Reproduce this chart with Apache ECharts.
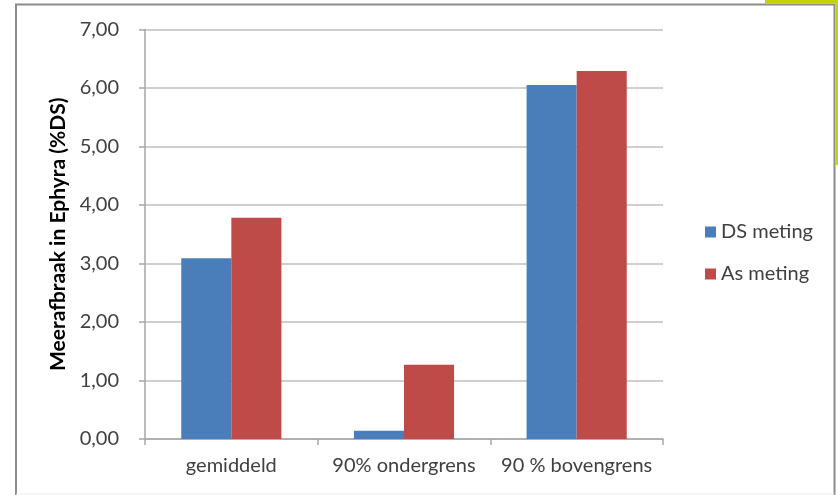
<!DOCTYPE html>
<html>
<head>
<meta charset="utf-8">
<script src="https://cdn.jsdelivr.net/npm/echarts@6/dist/echarts.min.js"></script>
<style>
  html, body { margin: 0; padding: 0; background: #ffffff; }
  #chart { width: 838px; height: 495px; }
</style>
</head>
<body>
<div id="chart"></div>
<script>
// Categories along the x axis
const categories = ['gemiddeld', '90% ondergrens', '90 % bovengrens'];
// Series names
const seriesNames = ['DS meting', 'As meting'];
// Values per series (%DS)
const dsMeting = [3.09, 0.14, 6.05];
const asMeting = [3.78, 1.27, 6.29];
// Y axis range
const yMin = 0, yMax = 7, yStep = 1;

const fontFamily = 'Lato, "Open Sans", "Noto Sans", sans-serif';
const textColor = '#404040';
const frameColor = '#8c8c8c';

const chart = echarts.init(document.getElementById('chart'), null, { renderer: 'canvas' });

chart.setOption({
  animation: false,
  backgroundColor: '#ffffff',
  textStyle: { fontFamily: fontFamily },
  grid: { left: 145, right: 175, top: 29.5, bottom: 56, containLabel: false },
  legend: {
    orient: 'vertical',
    left: 700,
    top: 217,
    itemWidth: 11,
    itemHeight: 11,
    itemGap: 22,
    icon: 'rect',
    textStyle: { fontSize: 20, color: textColor, fontFamily: fontFamily },
    data: seriesNames
  },
  xAxis: {
    type: 'category',
    data: categories,
    axisLine: { lineStyle: { color: '#a6a6a6', width: 1.5 } },
    axisTick: { show: true, length: 6, alignWithLabel: false, lineStyle: { color: '#a6a6a6', width: 1.5 } },
    axisLabel: { fontSize: 20, color: textColor, margin: 17, interval: 0, hideOverlap: false },
    splitLine: { show: false }
  },
  yAxis: {
    type: 'value',
    min: yMin,
    max: yMax,
    interval: yStep,
    name: 'Meerafbraak in Ephyra (%DS)',
    nameLocation: 'middle',
    nameGap: 76,
    nameRotate: 90,
    nameTextStyle: { fontSize: 21, fontWeight: 'bold', color: '#000000' },
    axisLine: { show: true, lineStyle: { color: '#a6a6a6', width: 1.5 } },
    axisTick: { show: true, length: 6, lineStyle: { color: '#a6a6a6', width: 1.5 } },
    axisLabel: {
      fontSize: 20,
      color: textColor,
      margin: 26,
      formatter: v => v.toFixed(2).replace('.', ',')
    },
    splitLine: { show: true, lineStyle: { color: '#bfbfbf', width: 1.5 } }
  },
  series: [
    {
      name: seriesNames[0],
      type: 'bar',
      data: dsMeting,
      barGap: '0%',
      barCategoryGap: '42%',
      itemStyle: { color: '#4a7ebb' }
    },
    {
      name: seriesNames[1],
      type: 'bar',
      data: asMeting,
      barGap: '0%',
      barCategoryGap: '42%',
      itemStyle: { color: '#be4b48' }
    }
  ],
  graphic: [
    // frame: left, top and right edges, with a faint bottom edge
    {
      type: 'polyline',
      shape: { points: [[16, 495], [16, 4.5], [834.5, 4.5], [834.5, 495]] },
      style: { fill: null, stroke: frameColor, lineWidth: 2 },
      silent: true
    },
    {
      type: 'line',
      shape: { x1: 16, y1: 494, x2: 834.5, y2: 494 },
      style: { stroke: '#ececec', lineWidth: 1 },
      silent: true
    },
    // accent strip along the top-right corner
    {
      type: 'rect',
      shape: { x: 765, y: 0, width: 73, height: 3.5 },
      style: { fill: '#c5d30a' },
      silent: true
    },
    {
      type: 'rect',
      shape: { x: 835.8, y: 0, width: 2.2, height: 165 },
      style: { fill: '#c5d30a' },
      silent: true
    }
  ]
});
</script>
</body>
</html>
